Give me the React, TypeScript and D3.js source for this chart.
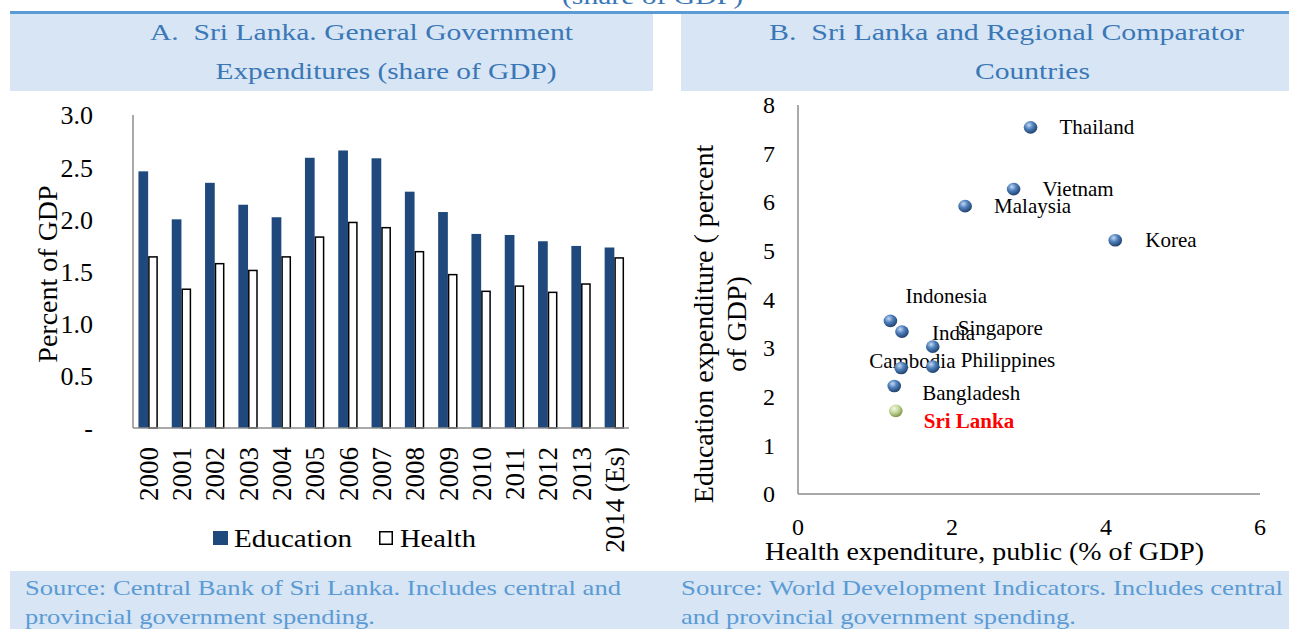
import React from 'react';
import * as d3 from 'd3';

// ---------- Panel A data ----------
const years = ['2000', '2001', '2002', '2003', '2004', '2005', '2006', '2007', '2008', '2009', '2010', '2011', '2012', '2013', '2014 (Es)'];
const education = [2.46, 2.0, 2.35, 2.14, 2.02, 2.59, 2.66, 2.585, 2.265, 2.07, 1.86, 1.85, 1.79, 1.745, 1.73];
const health = [1.64, 1.33, 1.575, 1.51, 1.64, 1.83, 1.97, 1.92, 1.69, 1.47, 1.31, 1.36, 1.3, 1.38, 1.63];
const yTicksA = [0, 0.5, 1, 1.5, 2, 2.5, 3];
const seriesA = ['Education', 'Health'];

// ---------- Panel B data ----------
const countries = ['Thailand', 'Vietnam', 'Malaysia', 'Korea', 'Indonesia', 'India', 'Singapore', 'Philippines', 'Cambodia', 'Bangladesh', 'Sri Lanka'];
const healthPublic = [3.02, 2.8, 2.17, 4.12, 1.2, 1.35, 1.75, 1.75, 1.34, 1.25, 1.27];
const eduSpending = [7.54, 6.27, 5.92, 5.22, 3.56, 3.34, 3.03, 2.62, 2.59, 2.22, 1.71];
const labelOffsets: [number, number][] = [[29, 7], [29, 7], [29, 7], [30, 7], [15, -18], [30, 8], [25, -12], [28, 0], [-32, 0], [28, 14], [28, 17]];
const xTicksB = [0, 2, 4, 6];
const yTicksB = [0, 1, 2, 3, 4, 5, 6, 7, 8];

const FONT = "'Liberation Serif', 'Times New Roman', Tinos, serif";
const TITLE_C = '#3a77b7';
const SRC_C = '#5b9bd5';
const BAND_C = '#d7e5f4';
const AXIS_C = '#8c8c8c';
const NAVY = '#1f497d';

export default function App() {
  // Panel A scales
  const xA = d3.scaleBand<string>().domain(years).range([131.5, 631]).paddingInner(0);
  const inner = d3.scaleBand<string>().domain(seriesA).range([0, 19.4]);
  const yA = d3.scaleLinear().domain([0, 3]).range([428, 115]);

  // Panel B scales
  const xB = d3.scaleLinear().domain([0, 6]).range([798, 1260]);
  const yB = d3.scaleLinear().domain([0, 8]).range([494, 105]);

  return (
    <svg width={1289} height={629} style={{ position: 'absolute', left: 0, top: 0, fontFamily: FONT }}>
      <defs>
        <radialGradient id="blueSphere" cx="38%" cy="32%" r="70%">
          <stop offset="0%" stopColor="#c4d8f2" />
          <stop offset="45%" stopColor="#4f81bd" />
          <stop offset="100%" stopColor="#1f3f6a" />
        </radialGradient>
        <radialGradient id="greenSphere" cx="38%" cy="32%" r="70%">
          <stop offset="0%" stopColor="#f4f8e4" />
          <stop offset="50%" stopColor="#c3d69b" />
          <stop offset="100%" stopColor="#7b9446" />
        </radialGradient>
      </defs>

      {/* header */}
      <text x={562} y={4} fontSize={24} fill={TITLE_C} textLength={181} lengthAdjust="spacingAndGlyphs">(share of GDP)</text>
      <rect x={10} y={11} width={1279} height={3} fill="#5b9bd5" />
      <rect x={10} y={14} width={643} height={77} fill={BAND_C} />
      <rect x={681} y={14} width={608} height={77} fill={BAND_C} />
      <text x={150} y={40} fontSize={24} fill={TITLE_C} textLength={423} lengthAdjust="spacingAndGlyphs" xmlSpace="preserve">A.  Sri Lanka. General Government</text>
      <text x={215.5} y={79} fontSize={24} fill={TITLE_C} textLength={341} lengthAdjust="spacingAndGlyphs">Expenditures (share of GDP)</text>
      <text x={769} y={40} fontSize={24} fill={TITLE_C} textLength={475} lengthAdjust="spacingAndGlyphs" xmlSpace="preserve">B.  Sri Lanka and Regional Comparator</text>
      <text x={975} y={79} fontSize={24} fill={TITLE_C} textLength={115} lengthAdjust="spacingAndGlyphs">Countries</text>

      {/* footer */}
      <rect x={10} y={571} width={1279} height={58} fill={BAND_C} />
      <text x={25} y={595} fontSize={22} fill={SRC_C} textLength={596} lengthAdjust="spacingAndGlyphs">Source: Central Bank of Sri Lanka. Includes central and</text>
      <text x={25} y={624} fontSize={22} fill={SRC_C} textLength={350} lengthAdjust="spacingAndGlyphs">provincial government spending.</text>
      <text x={681} y={595} fontSize={22} fill={SRC_C} textLength={602} lengthAdjust="spacingAndGlyphs">Source: World Development Indicators. Includes central</text>
      <text x={681} y={624} fontSize={22} fill={SRC_C} textLength={395} lengthAdjust="spacingAndGlyphs">and provincial government spending.</text>

      {/* ---------- Panel A ---------- */}
      <g>
        {years.map((yr, i) => {
          const c = xA(yr)! + xA.bandwidth() / 2;
          const x0 = c - 9.7;
          return (
            <g key={yr}>
              <rect x={x0 + inner('Education')!} y={yA(education[i])} width={inner.bandwidth()} height={yA(0) - yA(education[i])} fill={NAVY} />
              <rect x={x0 + inner('Health')! + 0.75} y={yA(health[i])} width={inner.bandwidth() - 1.5} height={yA(0) - yA(health[i])} fill="#fff" stroke="#000" strokeWidth={1.5} />
            </g>
          );
        })}
        <line x1={133} x2={133} y1={115} y2={428} stroke={AXIS_C} strokeWidth={1.5} />
        <line x1={133} x2={629} y1={428} y2={428} stroke={AXIS_C} strokeWidth={1.5} />
        {yTicksA.map((t) => (
          <text key={t} x={93} y={yA(t)} dy="0.36em" fontSize={26} textAnchor="end" fill="#000">
            {t === 0 ? '-' : t.toFixed(1)}
          </text>
        ))}
        {years.map((yr) => {
          const c = xA(yr)! + xA.bandwidth() / 2;
          return (
            <text key={yr} transform={`translate(${c},447) rotate(-90)`} dy="0.36em" fontSize={27} textAnchor="end" fill="#000">
              {yr}
            </text>
          );
        })}
        <text transform="translate(57,274) rotate(-90)" fontSize={28} textAnchor="middle" fill="#000">Percent of GDP</text>
        {/* legend */}
        <rect x={213} y={531} width={15} height={14} fill={NAVY} />
        <text x={234} y={547} fontSize={26} textLength={118} lengthAdjust="spacingAndGlyphs" fill="#000">Education</text>
        <rect x={379.75} y={531.75} width={12.5} height={12.5} fill="#fff" stroke="#000" strokeWidth={1.5} />
        <text x={400} y={547} fontSize={26} textLength={76} lengthAdjust="spacingAndGlyphs" fill="#000">Health</text>
      </g>

      {/* ---------- Panel B ---------- */}
      <g>
        <line x1={798} x2={798} y1={105} y2={494} stroke={AXIS_C} strokeWidth={1.5} />
        <line x1={798} x2={1260} y1={494} y2={494} stroke={AXIS_C} strokeWidth={1.5} />
        {yTicksB.map((t) => (
          <text key={t} x={775} y={yB(t)} dy="0.34em" fontSize={24} textAnchor="end" fill="#000">{t}</text>
        ))}
        {xTicksB.map((t) => (
          <text key={t} x={xB(t)} y={535} fontSize={24} textAnchor="middle" fill="#000">{t}</text>
        ))}
        <text x={765} y={560} fontSize={25} textLength={439} lengthAdjust="spacingAndGlyphs" fill="#000">Health expenditure, public (% of GDP)</text>
        <text transform="translate(713,324) rotate(-90)" fontSize={28} textAnchor="middle" fill="#000">Education expenditure ( percent</text>
        <text transform="translate(746,324) rotate(-90)" fontSize={28} textAnchor="middle" fill="#000">of GDP)</text>
        {countries.map((c, i) => {
          const isSL = c === 'Sri Lanka';
          return (
            <text key={c} x={xB(healthPublic[i]) + labelOffsets[i][0]} y={yB(eduSpending[i]) + labelOffsets[i][1]} fontSize={21}
              fontWeight={isSL ? 'bold' : 'normal'} fill={isSL ? '#ff0000' : '#000'}>{c}</text>
          );
        })}
        {countries.map((c, i) => (
          <ellipse key={c} cx={xB(healthPublic[i])} cy={yB(eduSpending[i])} rx={6.8} ry={6.3}
            fill={c === 'Sri Lanka' ? 'url(#greenSphere)' : 'url(#blueSphere)'} />
        ))}
      </g>
    </svg>
  );
}
